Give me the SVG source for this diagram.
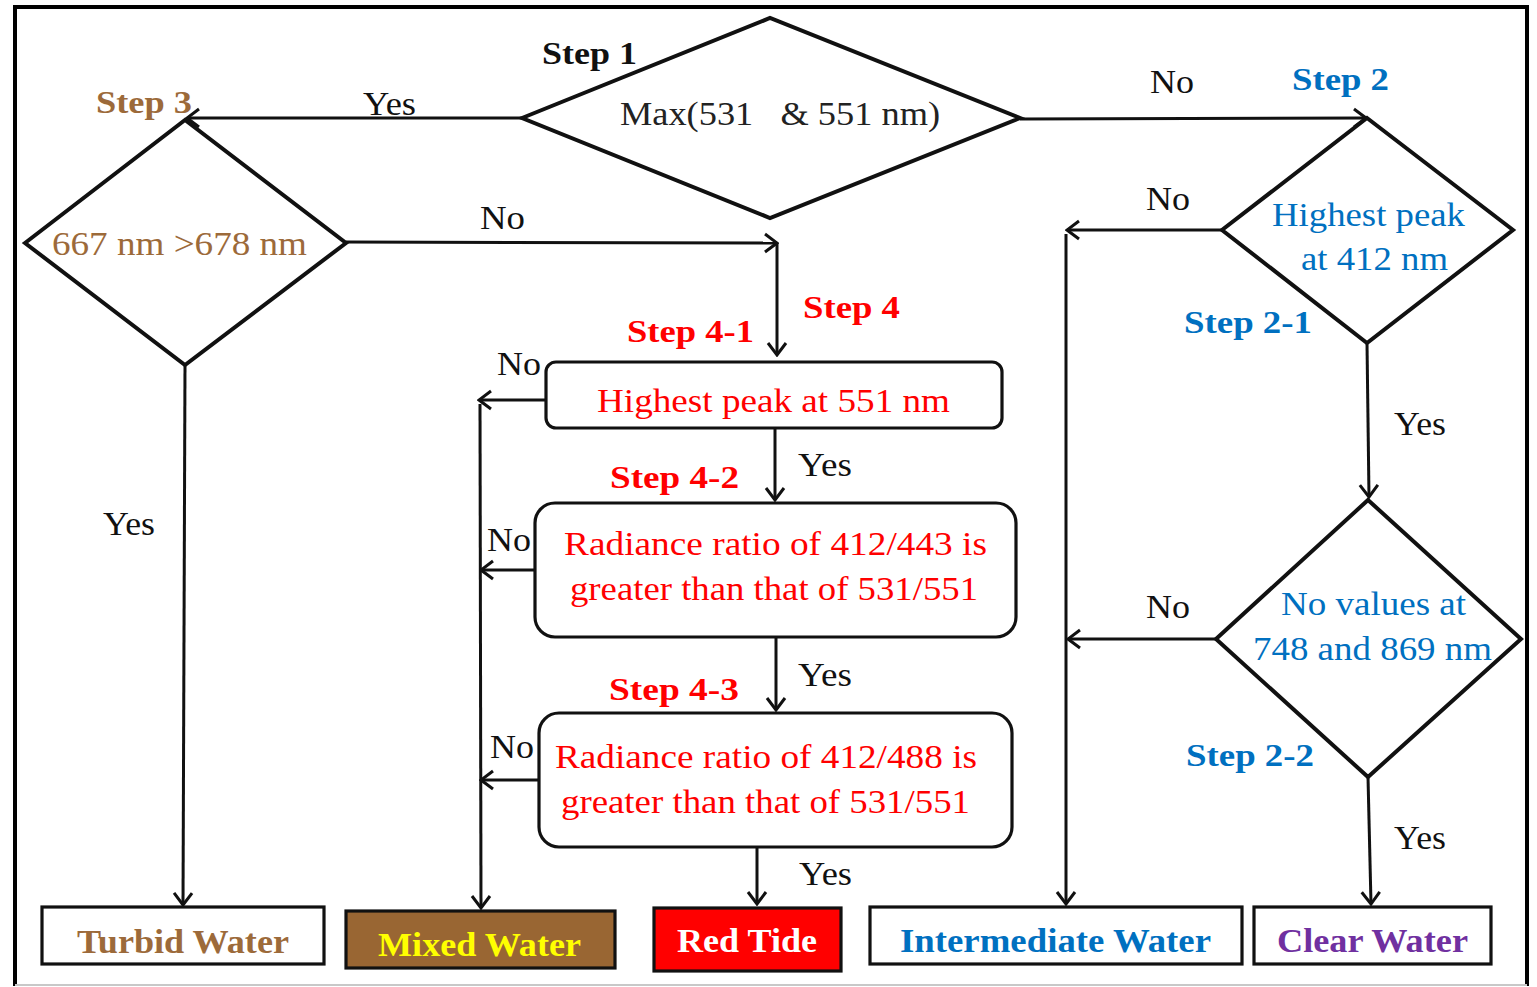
<svg xmlns="http://www.w3.org/2000/svg" width="1537" height="987" viewBox="0 0 1537 987" font-family="'Liberation Serif', 'Times New Roman', Times, serif">
<defs>
<marker id="arr" markerUnits="userSpaceOnUse" viewBox="-16 -12 18 24" markerWidth="18" markerHeight="24" refX="0" refY="0" orient="auto">
<path d="M-12,-9 L0,0 L-12,9" fill="none" stroke="#111" stroke-width="3"/>
</marker>
<style>
text{font-family:'Liberation Serif','Times New Roman',Times,serif;}
.lbl{font-size:33px;fill:#111;}
.step{font-size:32px;font-weight:bold;}
.dia{fill:#fff;stroke:#111;stroke-width:4;}
.box{fill:#fff;stroke:#111;stroke-width:3.2;}
.conn{fill:none;stroke:#111;stroke-width:3;}
.red{fill:#ff0000;}
.blue{fill:#0070c0;}
.brown{fill:#9c6a3a;}
.body{font-size:34px;}
.out{font-size:34px;font-weight:bold;}
</style>
</defs>
<rect x="0" y="0" width="1537" height="987" fill="#fff"/>
<!-- frame -->
<path d="M15,986 L15,7 L1527,7 L1527,986" fill="none" stroke="#000" stroke-width="4"/>
<line x1="15" y1="985" x2="1527" y2="985" stroke="#c8c8c8" stroke-width="2"/>

<g id="connectors">
<path class="conn" d="M522,118 L187,118" marker-end="url(#arr)"/>
<path class="conn" d="M1020,119 L1366,118" marker-end="url(#arr)"/>
<path class="conn" d="M346,242 L777,243" marker-end="url(#arr)"/>
<path class="conn" d="M777,243 L777,355" marker-end="url(#arr)"/>
<path class="conn" d="M185,365 L183,905" marker-end="url(#arr)"/>
<path class="conn" d="M546,400 L479,400" marker-end="url(#arr)"/>
<path class="conn" d="M480,404 L481,908" marker-end="url(#arr)"/>
<path class="conn" d="M535,570 L481,570" marker-end="url(#arr)"/>
<path class="conn" d="M539,780 L481,780" marker-end="url(#arr)"/>
<path class="conn" d="M775,429 L775,500" marker-end="url(#arr)"/>
<path class="conn" d="M776,638 L776,710" marker-end="url(#arr)"/>
<path class="conn" d="M757,848 L757,904" marker-end="url(#arr)"/>
<path class="conn" d="M1222,230 L1067,230" marker-end="url(#arr)"/>
<path class="conn" d="M1066,234 L1066,904" marker-end="url(#arr)"/>
<path class="conn" d="M1216,639 L1068,639" marker-end="url(#arr)"/>
<path class="conn" d="M1367,343 L1369,497" marker-end="url(#arr)"/>
<path class="conn" d="M1368,777 L1371,904" marker-end="url(#arr)"/>
</g>

<g id="connector-labels">
<text class="lbl" x="363" y="115" textLength="53" lengthAdjust="spacingAndGlyphs">Yes</text>
<text class="lbl" x="1150" y="93" textLength="44" lengthAdjust="spacingAndGlyphs">No</text>
<text class="lbl" x="480" y="229" textLength="45" lengthAdjust="spacingAndGlyphs">No</text>
<text class="lbl" x="103" y="535" textLength="52" lengthAdjust="spacingAndGlyphs">Yes</text>
<text class="lbl" x="497" y="375" textLength="44" lengthAdjust="spacingAndGlyphs">No</text>
<text class="lbl" x="798" y="476" textLength="54" lengthAdjust="spacingAndGlyphs">Yes</text>
<text class="lbl" x="487" y="551" textLength="44" lengthAdjust="spacingAndGlyphs">No</text>
<text class="lbl" x="798" y="686" textLength="54" lengthAdjust="spacingAndGlyphs">Yes</text>
<text class="lbl" x="490" y="758" textLength="44" lengthAdjust="spacingAndGlyphs">No</text>
<text class="lbl" x="799" y="885" textLength="53" lengthAdjust="spacingAndGlyphs">Yes</text>
<text class="lbl" x="1146" y="210" textLength="44" lengthAdjust="spacingAndGlyphs">No</text>
<text class="lbl" x="1394" y="435" textLength="52" lengthAdjust="spacingAndGlyphs">Yes</text>
<text class="lbl" x="1146" y="618" textLength="44" lengthAdjust="spacingAndGlyphs">No</text>
<text class="lbl" x="1394" y="849" textLength="52" lengthAdjust="spacingAndGlyphs">Yes</text>
</g>

<g id="step1">
<polygon class="dia" points="522,118 770,18 1020,118 770,218"/>
<text class="step" x="542" y="64" fill="#111" textLength="95" lengthAdjust="spacingAndGlyphs">Step 1</text>
<text class="body" x="620" y="125" fill="#222" textLength="320" lengthAdjust="spacingAndGlyphs" xml:space="preserve">Max(531   &amp; 551 nm)</text>
</g>

<g id="step3">
<polygon class="dia" points="25,243 185,120 346,243 185,365"/>
<text class="step brown" x="96" y="113" textLength="96" lengthAdjust="spacingAndGlyphs">Step 3</text>
<text class="body brown" x="52" y="255" textLength="255" lengthAdjust="spacingAndGlyphs">667 nm &gt;678 nm</text>
</g>

<g id="step2">
<polygon class="dia" points="1367,118 1513,230 1367,343 1222,230"/>
<text class="step blue" x="1292" y="90" textLength="97" lengthAdjust="spacingAndGlyphs">Step 2</text>
<text class="body blue" x="1272" y="226" textLength="193" lengthAdjust="spacingAndGlyphs">Highest peak</text>
<text class="body blue" x="1301" y="270" textLength="147" lengthAdjust="spacingAndGlyphs">at 412 nm</text>
<text class="step blue" x="1184" y="333" textLength="128" lengthAdjust="spacingAndGlyphs">Step 2-1</text>
</g>

<g id="step2-2">
<polygon class="dia" points="1368,500 1521,639 1368,777 1216,639"/>
<text class="body blue" x="1281" y="615" textLength="185" lengthAdjust="spacingAndGlyphs">No values at</text>
<text class="body blue" x="1253" y="660" textLength="239" lengthAdjust="spacingAndGlyphs">748 and 869 nm</text>
<text class="step blue" x="1186" y="766" textLength="128" lengthAdjust="spacingAndGlyphs">Step 2-2</text>
</g>

<g id="step4-1">
<rect class="box" x="546" y="362" width="456" height="66" rx="10"/>
<text class="step red" x="803" y="318" textLength="97" lengthAdjust="spacingAndGlyphs">Step 4</text>
<text class="step red" x="627" y="342" textLength="127" lengthAdjust="spacingAndGlyphs">Step 4-1</text>
<text class="body red" x="597" y="412" textLength="353" lengthAdjust="spacingAndGlyphs">Highest peak at 551 nm</text>
</g>

<g id="step4-2">
<rect class="box" x="535" y="503" width="481" height="134" rx="20"/>
<text class="step red" x="610" y="488" textLength="129" lengthAdjust="spacingAndGlyphs">Step 4-2</text>
<text class="body red" x="564" y="555" textLength="423" lengthAdjust="spacingAndGlyphs">Radiance ratio of 412/443 is</text>
<text class="body red" x="570" y="600" textLength="408" lengthAdjust="spacingAndGlyphs">greater than that of 531/551</text>
</g>

<g id="step4-3">
<rect class="box" x="539" y="713" width="473" height="134" rx="20"/>
<text class="step red" x="609" y="700" textLength="130" lengthAdjust="spacingAndGlyphs">Step 4-3</text>
<text class="body red" x="555" y="768" textLength="422" lengthAdjust="spacingAndGlyphs">Radiance ratio of 412/488 is</text>
<text class="body red" x="561" y="813" textLength="409" lengthAdjust="spacingAndGlyphs">greater than that of 531/551</text>
</g>

<g id="turbid">
<rect class="box" x="42" y="907" width="282" height="57"/>
<text class="out brown" x="77" y="953" textLength="212" lengthAdjust="spacingAndGlyphs">Turbid Water</text>
</g>
<g id="mixed">
<rect x="346" y="911" width="269" height="57" fill="#996633" stroke="#111" stroke-width="3.2"/>
<text class="out" x="378" y="956" fill="#ffff00" textLength="203" lengthAdjust="spacingAndGlyphs">Mixed Water</text>
</g>
<g id="redtide">
<rect x="654" y="908" width="187" height="63" fill="#ff0000" stroke="#111" stroke-width="3.2"/>
<text class="out" x="677" y="952" fill="#ffffff" textLength="140" lengthAdjust="spacingAndGlyphs">Red Tide</text>
</g>
<g id="intermediate">
<rect class="box" x="870" y="907" width="372" height="57"/>
<text class="out blue" x="900" y="952" textLength="311" lengthAdjust="spacingAndGlyphs">Intermediate Water</text>
</g>
<g id="clear">
<rect class="box" x="1254" y="907" width="237" height="57"/>
<text class="out" x="1277" y="952" fill="#7030a0" textLength="191" lengthAdjust="spacingAndGlyphs">Clear Water</text>
</g>
</svg>
